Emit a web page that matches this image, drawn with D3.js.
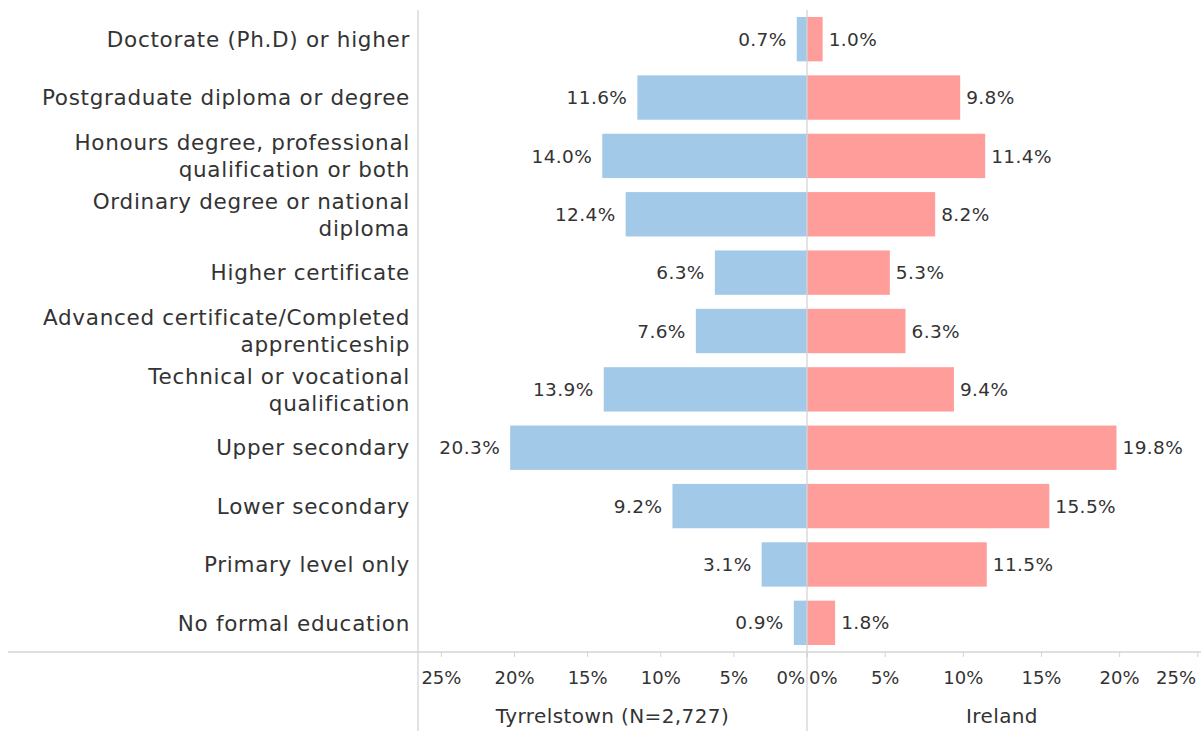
<!DOCTYPE html>
<html>
<head>
<meta charset="utf-8">
<script src="https://cdn.jsdelivr.net/npm/d3@7"></script>
<style>
  body { margin: 0; background: #fff; }
  svg text { font-family: "DejaVu Sans", sans-serif; fill: #333; }
</style>
</head>
<body>
<div id="chart"></div>
<script>
// Education level, Tyrrelstown vs Ireland
const categories = [
    ["Doctorate (Ph.D) or higher"],
    ["Postgraduate diploma or degree"],
    ["Honours degree, professional", "qualification or both"],
    ["Ordinary degree or national", "diploma"],
    ["Higher certificate"],
    ["Advanced certificate/Completed", "apprenticeship"],
    ["Technical or vocational", "qualification"],
    ["Upper secondary"],
    ["Lower secondary"],
    ["Primary level only"],
    ["No formal education"]
];
const tyrrelstown = [0.7, 11.6, 14.0, 12.4, 6.3, 7.6, 13.9, 20.3, 9.2, 3.1, 0.9];
const ireland = [1.0, 9.8, 11.4, 8.2, 5.3, 6.3, 9.4, 19.8, 15.5, 11.5, 1.8];
const tickValues = [0, 5, 10, 15, 20, 25];
const leftTitle = "Tyrrelstown (N=2,727)";
const rightTitle = "Ireland";

const width = 1201, height = 731;
const labelEdge = 418, center = 807, rightEdge = 1197;
const plotTop = 10, axisY = 652;

const svg = d3.select('#chart').append('svg')
    .attr('width', width)
    .attr('height', height);

const y = d3.scaleBand()
    .domain(d3.range(categories.length))
    .range([plotTop, axisY])
    .paddingInner(0.24)
    .paddingOuter(0.12);

const xLeft = d3.scaleLinear().domain([0, 26.6]).range([center, labelEdge]);
const xRight = d3.scaleLinear().domain([0, 24.95]).range([center, rightEdge]);

// grid lines
const lineColor = '#d4d4d4';
svg.append('line').attr('x1', labelEdge).attr('x2', labelEdge).attr('y1', plotTop).attr('y2', height)
    .attr('stroke', lineColor).attr('stroke-width', 1.3);
svg.append('line').attr('x1', 8).attr('x2', width).attr('y1', axisY).attr('y2', axisY)
    .attr('stroke', lineColor).attr('stroke-width', 1.3);

// bars
svg.selectAll('.bar-left')
    .data(tyrrelstown)
    .enter().append('rect')
    .attr('x', d => xLeft(d))
    .attr('y', (d, i) => y(i))
    .attr('width', d => center - xLeft(d))
    .attr('height', y.bandwidth())
    .attr('fill', '#a2cae8');

svg.selectAll('.bar-right')
    .data(ireland)
    .enter().append('rect')
    .attr('x', center)
    .attr('y', (d, i) => y(i))
    .attr('width', d => xRight(d) - center)
    .attr('height', y.bandwidth())
    .attr('fill', '#ff9d9b');

// center line on top of bars
svg.append('line').attr('x1', center).attr('x2', center).attr('y1', plotTop).attr('y2', height)
    .attr('stroke', lineColor).attr('stroke-width', 1.3);

// value labels
svg.selectAll('.val-left')
    .data(tyrrelstown)
    .enter().append('text')
    .attr('x', d => xLeft(d) - 10)
    .attr('y', (d, i) => y(i) + y.bandwidth() / 2)
    .attr('dy', '0.36em')
    .attr('text-anchor', 'end')
    .style('font-size', '18.5px')
    .style('letter-spacing', '0.4px')
    .text(d => d.toFixed(1) + '%');

svg.selectAll('.val-right')
    .data(ireland)
    .enter().append('text')
    .attr('x', d => xRight(d) + 6)
    .attr('y', (d, i) => y(i) + y.bandwidth() / 2)
    .attr('dy', '0.36em')
    .attr('text-anchor', 'start')
    .style('font-size', '18.5px')
    .style('letter-spacing', '0.4px')
    .text(d => d.toFixed(1) + '%');

// category labels
const cat = svg.selectAll('.cat')
    .data(categories)
    .enter().append('text')
    .attr('text-anchor', 'end')
    .style('font-size', '21.5px')
    .style('letter-spacing', '0.7px')
    .attr('transform', (d, i) => `translate(410,${y(i) + y.bandwidth() / 2})`);

cat.selectAll('tspan')
    .data(d => d.map((t, j) => ({ t, j, n: d.length })))
    .enter().append('tspan')
    .attr('x', 0)
    .attr('y', d => (d.j - (d.n - 1) / 2) * 27)
    .attr('dy', '0.36em')
    .text(d => d.t);

// axes
const tickY = axisY;
svg.selectAll('.tick-left')
    .data(tickValues)
    .enter().append('line')
    .attr('x1', d => xLeft(d)).attr('x2', d => xLeft(d))
    .attr('y1', tickY).attr('y2', tickY + 5)
    .attr('stroke', lineColor);
svg.selectAll('.tick-right')
    .data(tickValues)
    .enter().append('line')
    .attr('x1', d => xRight(d)).attr('x2', d => xRight(d))
    .attr('y1', tickY).attr('y2', tickY + 5)
    .attr('stroke', lineColor);

svg.selectAll('.tl-left')
    .data(tickValues)
    .enter().append('text')
    .attr('x', d => d === 0 ? center - 2 : xLeft(d))
    .attr('y', 684)
    .attr('text-anchor', d => d === 0 ? 'end' : 'middle')
    .style('font-size', '18px')
    .text(d => d + '%');

svg.selectAll('.tl-right')
    .data(tickValues)
    .enter().append('text')
    .attr('x', d => d === 0 ? center + 2 : (d === 25 ? 1196 : xRight(d)))
    .attr('y', 684)
    .attr('text-anchor', d => d === 0 ? 'start' : (d === 25 ? 'end' : 'middle'))
    .style('font-size', '18px')
    .text(d => d + '%');

svg.append('text')
    .attr('x', (labelEdge + center) / 2)
    .attr('y', 723)
    .attr('text-anchor', 'middle')
    .style('font-size', '20px')
    .style('letter-spacing', '0.4px')
    .text(leftTitle);

svg.append('text')
    .attr('x', (center + rightEdge) / 2)
    .attr('y', 723)
    .attr('text-anchor', 'middle')
    .style('font-size', '20px')
    .style('letter-spacing', '0.4px')
    .text(rightTitle);
</script>
</body>
</html>
